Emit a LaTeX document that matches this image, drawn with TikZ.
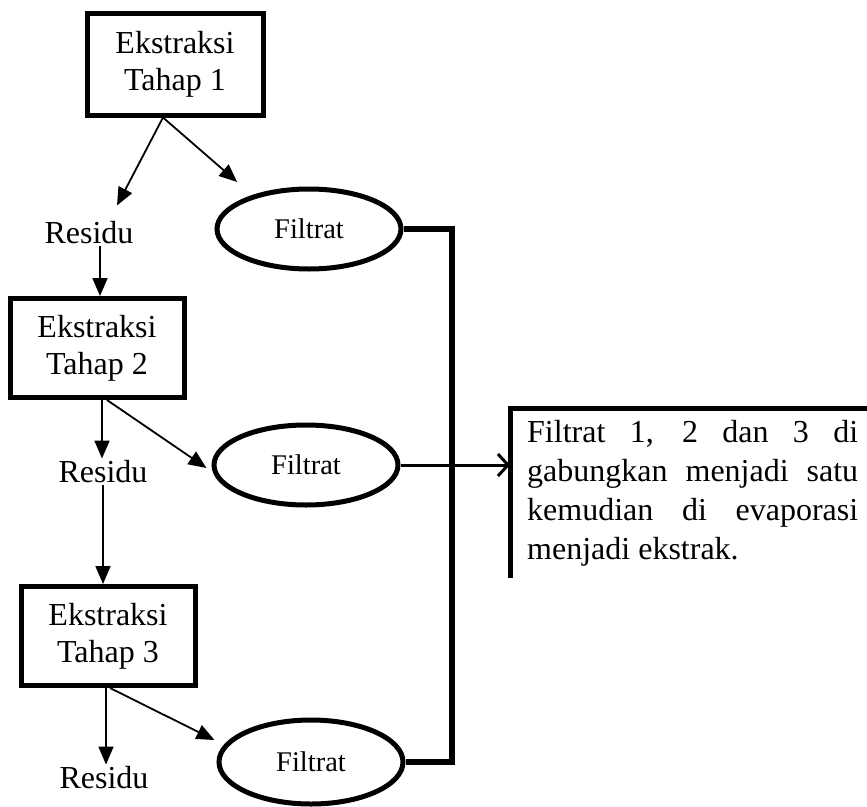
\documentclass[tikz,border=0pt]{standalone}
\usepackage{fontspec}
\setmainfont{Liberation Serif}
\usetikzlibrary{arrows.meta,positioning,shapes.geometric}

\begin{document}
\begin{tikzpicture}[
    x=1pt, y=-1pt,
    stage/.style={rectangle, draw, line width=5pt, minimum width=174pt, minimum height=99pt, align=center, font=\fontsize{32}{37}\selectfont},
    filtrat/.style={ellipse, draw, line width=5pt, minimum width=184pt, minimum height=80pt, font=\fontsize{28.5}{34}\selectfont},
    residu/.style={inner sep=2pt, font=\fontsize{32}{35}\selectfont},
    arrow/.style={-{Triangle[length=18pt,width=15pt]}, line width=1.8pt},
    bus/.style={line width=5.5pt},
    merge/.style={-{Straight Barb[length=10pt,width=22pt]}, line width=3pt}
]
\useasboundingbox (0,0) rectangle (867,806);
\clip (0,0) rectangle (867,806);

% Extraction stages
\node[stage, minimum width=176pt, minimum height=102pt] (tahap1) at (175,64) {Ekstraksi\\Tahap 1};
\node[stage] (tahap2) at (97,348) {Ekstraksi\\Tahap 2};
\node[stage] (tahap3) at (108,636) {Ekstraksi\\Tahap 3};

% Residues
\node[residu] (residu1) at (89,233) {Residu};
\node[residu] (residu2) at (103,472) {Residu};
\node[residu] (residu3) at (104,778) {Residu};

% Filtrates
\node[filtrat] (filtrat1) at (309,229) {Filtrat};
\node[filtrat] (filtrat2) at (306,465) {Filtrat};
\node[filtrat, minimum height=84pt] (filtrat3) at (311,762) {Filtrat};

% Result
\node[anchor=north west, text width=331pt, inner xsep=17pt, minimum height=170pt, align=justify,
      font=\fontsize{32}{39}\selectfont] (hasil) at (510,408)
    {Filtrat 1, 2 dan 3 di gabungkan menjadi satu kemudian di evaporasi menjadi ekstrak.};
\draw[line width=5pt] (hasil.south west) -- (hasil.north west) -- (hasil.north east);

% Stage flow
\draw[arrow] ([xshift=-12pt]tahap1.south) -- ([shift={(28,-14)}]residu1.north);
\draw[arrow] ([xshift=-12pt]tahap1.south) -- ([shift={(-5,-17)}]filtrat1.north west);
\draw[arrow] ([xshift=11pt]residu1.south) -- ([xshift=11pt]residu1.south |- tahap2.north);
\draw[arrow] ([xshift=5pt]tahap2.south) -- ([xshift=5pt]tahap2.south |- residu2.north);
\draw[arrow] ([xshift=10pt]tahap2.south) -- ([shift={(-5,3)}]filtrat2.west);
\draw[arrow] (residu2.south) -- (residu2.south |- tahap3.north);
\draw[arrow] ([xshift=-2pt]tahap3.south) -- ([xshift=-2pt]tahap3.south |- residu3.north);
\draw[arrow] ([xshift=2pt]tahap3.south) -- ([shift={(-2,-22)}]filtrat3.west);

% Filtrates joined
\coordinate (join) at (452,0);
\draw[bus] (filtrat1.east) -- (filtrat1.east -| join) -- (filtrat3.east -| join) -- (filtrat3.east);
\draw[merge] (filtrat2.east) -- (filtrat2.east -| hasil.west);

\end{tikzpicture}
\end{document}
